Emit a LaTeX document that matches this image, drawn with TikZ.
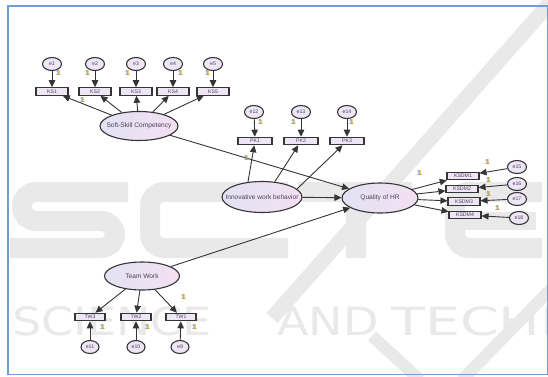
\documentclass[tikz,border=0pt]{standalone}
\usepackage{fontspec}
\setmainfont{Liberation Sans}
\newfontfamily\wmfont{DejaVu Sans}
\usetikzlibrary{shapes.geometric,arrows.meta}

\definecolor{frameblue}{HTML}{6E9ED8}
\definecolor{lav}{HTML}{EEE6F4}
\definecolor{lavL}{HTML}{E2E2F3}
\definecolor{lavR}{HTML}{F3E0F1}
\definecolor{edgec}{HTML}{353535}
\definecolor{ink}{HTML}{4B4262}
\definecolor{gold}{HTML}{E3A51E}
\definecolor{oneblue}{HTML}{4F8FD6}
\definecolor{wmgrey}{HTML}{E9E9E9}

\tikzset{
  latent/.style={ellipse,draw=edgec,line width=1.1pt,left color=lavL,right color=lavR,
    inner sep=0pt,minimum height=29pt},
  lvtext/.style={inner sep=0pt,text=ink,font=\fontsize{6.6}{7}\selectfont},
  obs/.style={rectangle,draw=edgec,line width=1.1pt,fill=lav,inner sep=0pt,
    minimum width=32pt,minimum height=7.5pt,text=ink,font=\fontsize{5.2}{5.2}\selectfont},
  err/.style={ellipse,draw=edgec,line width=1.1pt,fill=lav,inner sep=0pt,
    minimum width=19pt,minimum height=13pt,text=ink,font=\fontsize{5.2}{5.2}\selectfont},
  arc/.style={draw=edgec,line width=0.9pt,-{Triangle[length=7pt,width=6.5pt]}},
  wm/.style={text=wmgrey,inner sep=0pt,anchor=base west,font=\wmfont\fontsize{39}{39}\selectfont},
  wmstroke/.style={draw=wmgrey,line width=20pt,rounded corners=14pt},
  one/.pic={
    \node[text=oneblue,inner sep=0pt,font=\bfseries\fontsize{7}{7}\selectfont] at (-0.9,0.4) {1};
    \node[text=gold,inner sep=0pt,font=\bfseries\fontsize{7}{7}\selectfont] {1};
  }
}

\begin{document}
\begin{tikzpicture}[x=1pt,y=-1pt]
\useasboundingbox (0,0) rectangle (548,376);
\fill[white] (0,0) rectangle (548,376);

% background watermark
\begin{scope}
  \clip (0,0) rectangle (548,376);
  \draw[wmgrey,line width=15pt] (556,-4) -- (272,318);
  \draw[wmgrey,line width=12pt] (372,336) -- (420,380);
  \draw[wmgrey,line width=12pt] (462,380) -- (552,288);
  % large letters
  \draw[wmstroke] (128,192) -- (22,192) -- (22,221) -- (115,221) -- (115,248) -- (10,248);
  \draw[wmstroke] (288,192) -- (150,192) -- (150,248) -- (288,248);
  \draw[wmgrey,line width=20pt] (298,192) -- (412,192) (356,192) -- (356,258);
  \draw[wmstroke] (542,192) -- (455,192) -- (455,248) -- (542,248);
  \draw[wmgrey,line width=18pt] (455,221) -- (536,221);
  % small lettering
  \node[wm,xscale=1.18] (wm1) at (12,335) {SCIENCE};
  \node[wm,xscale=1.18] (wm2) at (277,335) {AND};
  \node[wm,xscale=1.42] (wm3) at (391,335) {TECHNOLOGY};
\end{scope}

% frame
\draw[frameblue,line width=1.6pt] (8,6) rectangle (547.5,374.5);

% latent variables
\node[latent,minimum width=78pt] (ss) at (139,126) {};
\node[lvtext] (sst) at (ss) {Soft-Skill Competency};
\node[latent,minimum width=80pt,minimum height=31pt] (iwb) at (262,197) {};
\node[lvtext] (iwbt) at (iwb) {Innovative work behavior};
\node[latent,minimum width=76pt,minimum height=30pt] (qhr) at (380,198) {};
\node[lvtext] (qhrt) at (qhr) {Quality of HR};
\node[latent,minimum width=75pt,minimum height=28pt] (tw) at (142,276) {};
\node[lvtext] (twt) at (tw) {Team Work};

% indicators of soft-skill competency
\foreach \i/\x in {1/52,2/95,3/136,4/173,5/213}{
  \node[obs] (ks\i) at (\x,91.5) {KS\i};
  \node[err] (e\i) at (\x,64) {e\i};
  \draw[arc] (e\i) -- (ks\i);
  \draw[arc] (ss) -- (ks\i);
}

% indicators of innovative work behaviour
\node[obs,minimum width=34pt] (pk1) at (255,141) {PK1};
\node[obs,minimum width=34pt] (pk2) at (301,141) {PK2};
\node[obs,minimum width=34pt] (pk3) at (347,141) {PK3};
\node[err] (e12) at (254,112) {e12};
\node[err] (e13) at (301,112) {e13};
\node[err] (e14) at (347,112) {e14};
\draw[arc] (e12) -- (pk1);
\draw[arc] (e13) -- (pk2);
\draw[arc] (e14) -- (pk3);
\draw[arc] (iwb.133) -- (pk1);
\draw[arc] (iwb.50) -- (pk2);
\draw[arc] (iwb.13) -- (pk3);

% indicators of quality of HR
\node[obs] (k1) at (463,176) {KSDM1};
\node[obs] (k2) at (462,189) {KSDM2};
\node[obs] (k3) at (464,201.5) {KSDM3};
\node[obs] (k4) at (465,215) {KSDM4};
\node[err] (e15) at (517,167) {e15};
\node[err] (e16) at (517,184) {e16};
\node[err] (e17) at (517,199) {e17};
\node[err] (e18) at (519,218) {e18};
\foreach \k/\e in {1/15,2/16,3/17,4/18}{
  \draw[arc] (qhr) -- (k\k);
  \draw[arc] (e\e) -- (k\k);
}

% indicators of team work
\node[obs,minimum width=30pt] (tw3) at (90,317) {TW3};
\node[obs,minimum width=30pt] (tw2) at (136,317) {TW2};
\node[obs,minimum width=30pt] (tw1) at (181,317) {TW1};
\node[err,minimum width=18pt] (e11) at (90,347) {e11};
\node[err,minimum width=18pt] (e10) at (136,347) {e10};
\node[err,minimum width=18pt] (e9) at (180,347) {e9};
\draw[arc] (tw) -- (tw3);
\draw[arc] (tw) -- (tw2);
\draw[arc] (tw) -- (tw1);
\draw[arc] (e11) -- (tw3);
\draw[arc] (e10) -- (tw2);
\draw[arc] (e9) -- (tw1);

% structural paths
\draw[arc] (ss) -- (qhr);
\draw[arc] (iwb) -- (qhr);
\draw[arc] (tw) -- (qhr);

% fixed loadings
\foreach \p in {(59,73),(88,73),(128,73),(181,73),(208,73),(83,100),
  (261,122),(294,122),(352,122),(247,158),
  (420,173),(488,162),(489,180),(489,194),(498,208),
  (184,297),(103,327),(148,327),(195,327)}
  \pic at \p {one};
\end{tikzpicture}
\end{document}
